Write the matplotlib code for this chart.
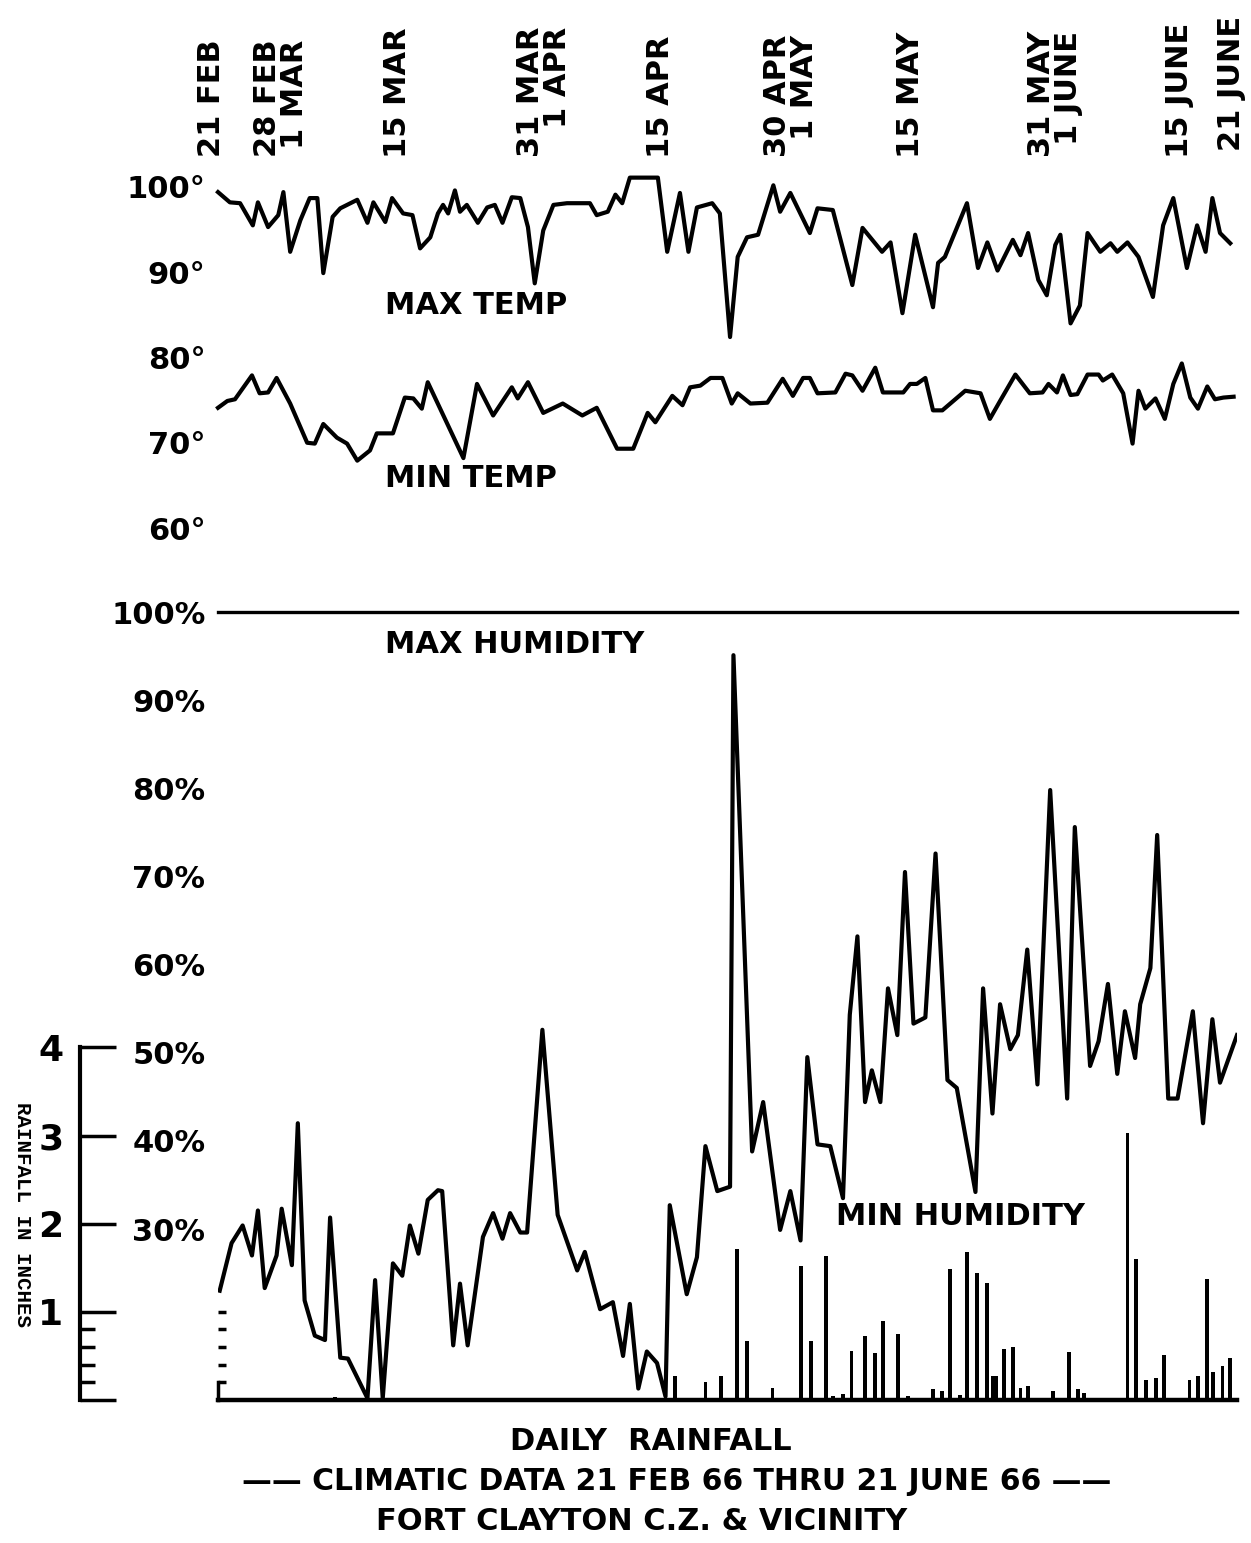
import numpy as np
import matplotlib
matplotlib.use("Agg")
import matplotlib.pyplot as plt

# ---------------- data (days after 21 Feb 1966) ----------------
max_temp_day = [0.0, 1.4, 2.6, 4.1, 4.7, 5.9, 7.1, 7.7, 8.5, 9.7, 10.8, 11.7, 12.4, 13.5, 14.4,
                16.4, 17.6, 18.3, 19.7, 20.5, 21.8, 22.9, 23.8, 25.0, 25.9, 26.5, 27.1, 27.9,
                28.5, 29.3, 30.6, 31.7, 32.6, 33.5, 34.6, 35.6, 36.5, 37.3, 38.3, 39.5, 41.1,
                43.8, 44.6, 45.9, 46.8, 47.6, 48.5, 51.8, 52.9, 54.4, 55.4, 56.4, 58.2, 59.1,
                60.3, 61.2, 62.3, 63.6, 65.4, 66.2, 67.4, 69.7, 70.6, 72.4, 74.7, 75.9, 78.2,
                79.2, 80.6, 82.1, 84.2, 84.8, 85.6, 88.2, 89.5, 90.6, 91.8, 93.6, 94.5, 95.4,
                96.6, 97.6, 98.6, 99.2, 100.4, 101.5, 102.4, 103.9, 105.1, 105.9, 107.1, 108.4,
                110.1, 111.3, 112.5, 114.1, 115.3, 116.3, 117.1, 118.0, 119.2]
max_temp = [99.4, 98.2, 98.1, 95.5, 98.2, 95.3, 96.7, 99.4, 92.4, 96.1, 98.7, 98.7, 89.9, 96.5, 97.5,
            98.5, 95.8, 98.2, 95.9, 98.7, 96.9, 96.7, 92.8, 94.1, 96.9, 97.9, 96.9, 99.6,
            97.1, 97.9, 95.8, 97.6, 97.9, 95.8, 98.8, 98.7, 95.3, 88.7, 94.9, 97.9, 98.1,
            98.1, 96.7, 97.1, 99.1, 98.1, 101.1, 101.1, 92.4, 99.3, 92.4, 97.6, 98.1, 96.9,
            82.4, 91.8, 94.1, 94.4, 100.2, 97.1, 99.3, 94.6, 97.5, 97.3, 88.5, 95.2, 92.4,
            93.5, 85.2, 94.4, 85.9, 91.1, 91.8, 98.1, 90.5, 93.5, 90.2, 93.8, 92.0, 94.6,
            89.1, 87.3, 93.2, 94.4, 84.0, 86.1, 94.6, 92.4, 93.4, 92.4, 93.5, 91.8,
            87.1, 95.5, 98.7, 90.5, 95.5, 92.4, 98.7, 94.6, 93.4]

min_temp_day = [0.0, 1.1, 2.0, 4.0, 4.9, 5.9, 6.9, 8.5, 10.5, 11.4, 12.4, 14.0, 15.2, 16.4, 17.9,
                18.7, 20.6, 22.0, 23.0, 24.0, 24.7, 28.9, 30.5, 32.4, 34.6, 35.3, 36.5, 38.3,
                40.6, 42.9, 44.6, 47.0, 48.9, 50.6, 51.5, 53.5, 54.7, 55.6, 56.8, 58.0, 59.4,
                60.5, 61.2, 62.7, 64.7, 66.5, 67.7, 68.9, 69.7, 70.6, 72.7, 73.9, 74.7, 75.9,
                77.4, 78.3, 80.7, 81.5, 82.3, 83.3, 84.2, 85.3, 88.0, 89.8, 90.9, 92.1, 93.9,
                95.6, 97.1, 97.8, 98.8, 99.5, 100.4, 101.2, 102.4, 103.7, 104.2, 105.3, 106.6,
                107.7, 108.4, 109.2, 110.4, 111.5, 112.5, 113.5, 114.5, 115.4, 116.5, 117.4,
                118.4, 119.6]
min_temp = [74.1, 74.9, 75.1, 77.9, 75.8, 75.9, 77.6, 74.6, 70.0, 69.9, 72.2, 70.6, 69.9, 67.9, 69.1,
            71.1, 71.1, 75.3, 75.2, 74.0, 77.1, 68.2, 76.9, 73.2, 76.5, 75.2, 77.1, 73.5,
            74.6, 73.2, 74.1, 69.3, 69.3, 73.5, 72.4, 75.5, 74.4, 76.5, 76.7, 77.6, 77.6,
            74.6, 75.8, 74.6, 74.7, 77.5, 75.5, 77.6, 77.6, 75.8, 75.9, 78.1, 77.9, 76.1,
            78.8, 75.9, 75.9, 76.9, 76.9, 77.6, 73.8, 73.8, 76.1, 75.8, 72.8, 74.9, 78.0,
            75.8, 75.9, 76.9, 75.9, 77.9, 75.6, 75.7, 78.0, 78.0, 77.3, 78.0, 75.8,
            69.9, 76.1, 74.0, 75.2, 72.8, 76.9, 79.3, 75.3, 74.0, 76.6, 75.1,
            75.3, 75.4]

max_hum_day = [0, 120]
max_hum = [100, 100]

min_hum_day = [0.2, 1.6, 2.9, 4.0, 4.7, 5.5, 6.9, 7.5, 8.7, 9.4, 10.2, 11.4, 12.6, 13.2, 14.4,
               15.3, 17.6, 18.5, 19.4, 20.6, 21.7, 22.6, 23.6, 24.7, 25.9, 26.4, 27.7, 28.5,
               29.4, 31.2, 32.4, 33.5, 34.4, 35.6, 36.4, 38.2, 40.0, 42.3, 43.2, 45.0, 46.5,
               47.7, 48.5, 49.5, 50.5, 51.7, 52.7, 53.2, 55.2, 56.4, 57.4, 58.8, 60.3, 60.7,
               62.9, 64.2, 66.2, 67.4, 68.6, 69.4, 70.6, 72.1, 73.6, 74.4, 75.3, 76.2, 77.0,
               78.0, 78.9, 80.0, 80.9, 81.9, 83.3, 84.5, 85.9, 87.0, 89.2, 90.1, 91.2, 92.1,
               93.3, 94.2, 95.3, 96.5, 98.0, 100.0, 100.9, 102.7, 103.7, 104.8, 105.9, 106.8,
               108.0, 108.6, 109.8, 110.6, 111.9, 113.0, 114.8, 116.0, 117.1, 118.0, 120.0]
min_hum = [23.0, 28.4, 30.4, 27.0, 32.1, 23.3, 27.0, 32.3, 25.9, 42.0, 21.9, 17.9, 17.4, 31.3, 15.4,
           15.3, 10.8, 24.2, 10.8, 26.1, 24.7, 30.4, 27.2, 33.3, 34.4, 34.3, 16.8, 23.8,
           16.8, 29.1, 31.8, 28.9, 31.8, 29.6, 29.6, 52.6, 31.6, 25.3, 27.4, 20.9, 21.7,
           15.6, 21.5, 11.9, 16.1, 14.8, 11.0, 32.7, 22.6, 26.8, 39.4, 34.3, 34.8, 95.1,
           38.8, 44.4, 29.9, 34.3, 28.7, 49.5, 39.6, 39.4, 33.5, 54.3, 63.2, 44.4, 48.0,
           44.4, 57.3, 52.0, 70.5, 53.3, 54.0, 72.6, 46.9, 46.0, 34.2, 57.3, 43.1, 55.5,
           50.4, 52.0, 61.7, 46.4, 79.8, 44.8, 75.6, 48.5, 51.3, 57.8, 47.6, 54.7,
           49.4, 55.5, 59.6, 74.7, 44.8, 44.8, 54.7, 42.0, 53.8, 46.6, 52.0]

rain_day = [13.8, 38.5, 53.8, 57.4, 59.2, 61.1, 62.3, 65.3, 68.7, 69.8, 71.6, 72.4, 73.6, 74.6,
            76.2, 77.4, 78.3, 80.1, 81.3, 84.2, 85.3, 86.2, 87.4, 88.2, 89.4, 90.6, 91.2,
            91.6, 92.6, 93.6, 94.5, 95.4, 98.3, 100.2, 101.3, 102.0, 107.1, 108.1, 109.3,
            110.5, 111.4, 114.4, 115.4, 116.5, 117.2, 118.3, 119.2]
rain_in = [0.03, 0.02, 0.27, 0.2, 0.27, 1.71, 0.67, 0.14, 1.52, 0.67, 1.63, 0.05, 0.07, 0.56,
           0.73, 0.53, 0.9, 0.75, 0.05, 0.12, 0.1, 1.49, 0.06, 1.68, 1.44, 1.33, 0.27,
           0.27, 0.58, 0.6, 0.14, 0.16, 0.1, 0.54, 0.12, 0.08, 3.03, 1.6, 0.23,
           0.25, 0.51, 0.23, 0.27, 1.37, 0.32, 0.39, 0.48]

temp_ticks = [60, 70, 80, 90, 100]
temp_labels = ["60°", "70°", "80°", "90°", "100°"]
hum_ticks = [30, 40, 50, 60, 70, 80, 90, 100]
hum_labels = ["30%", "40%", "50%", "60%", "70%", "80%", "90%", "100%"]
rain_ticks = [0, 1, 2, 3, 4]
rain_labels = ["", "1", "2", "3", "4"]

date_days = [0, 7.5, 22, 38.5, 53, 68.5, 83, 99.5, 114, 120]
date_labels = ["21 FEB", "28 FEB\n1 MAR", "15 MAR", "31 MAR\n1 APR", "15 APR",
               "30 APR\n1 MAY", "15 MAY", "31 MAY\n1 JUNE", "15 JUNE", "21 JUNE"]
# label placement (pixel nudges, not data)
date_dx = [-7, -1, -7, -1, -8, -9, -12, -8, -7, -5]
date_bottom = [157, 157, 158, 157, 158, 157, 158, 157, 158, 151]

# ---------------- layout ----------------
W, H = 1251, 1543
DPI = 100
fig = plt.figure(figsize=(W / DPI, H / DPI), dpi=DPI, facecolor="white")
FONT = "DejaVu Sans"
FS = 22

def fx(px):
    return px / W

def fy(py):
    return 1 - py / H

x_left, x_right = 218, 1237
LW = 3.0

# temperature panel
ax_t = fig.add_axes([fx(x_left), fy(528), fx(x_right) - fx(x_left), fy(187) - fy(528)])
ax_t.set_xlim(0, 120)
ax_t.set_ylim(60, 100)
for s in ax_t.spines.values():
    s.set_visible(False)
ax_t.set_xticks([])
ax_t.set_yticks(temp_ticks)
ax_t.set_yticklabels(temp_labels, fontsize=FS, fontweight="bold", family=FONT)
ax_t.tick_params(axis="y", length=0, pad=9)
ax_t.patch.set_alpha(0)
ax_t.plot(max_temp_day, max_temp, color="black", lw=LW, solid_joinstyle="round", clip_on=False)
ax_t.plot(min_temp_day, min_temp, color="black", lw=LW, solid_joinstyle="round", clip_on=False)
ax_t.text(19.7, 86.1, "MAX TEMP", fontsize=FS, fontweight="bold", family=FONT, va="center")
ax_t.text(19.7, 65.8, "MIN TEMP", fontsize=FS, fontweight="bold", family=FONT, va="center")

# date labels on top
for d, lab, dx, yb in zip(date_days, date_labels, date_dx, date_bottom):
    ax_t.annotate(lab, xy=(d, fy(yb)), xycoords=("data", "figure fraction"),
                  xytext=(dx * 0.72, 0), textcoords="offset points",
                  rotation=90, rotation_mode="anchor", ha="left", va="center",
                  multialignment="right", linespacing=0.92,
                  fontsize=FS, fontweight="bold", family=FONT, annotation_clip=False)

# humidity panel
ax_h = fig.add_axes([fx(x_left), fy(1400), fx(x_right) - fx(x_left), fy(612) - fy(1400)])
ax_h.set_xlim(0, 120)
ax_h.set_ylim(10.6, 100)
for k in ["top", "right", "left"]:
    ax_h.spines[k].set_visible(False)
ax_h.spines["bottom"].set_linewidth(3.2)
ax_h.set_xticks([])
ax_h.set_yticks(hum_ticks)
ax_h.set_yticklabels(hum_labels, fontsize=FS, fontweight="bold", family=FONT)
ax_h.tick_params(axis="y", length=0, pad=9)
ax_h.plot(max_hum_day, max_hum, color="black", lw=2.4, clip_on=False)
ax_h.plot(min_hum_day, min_hum, color="black", lw=LW, solid_joinstyle="round")
ax_h.text(19.7, 96.3, "MAX HUMIDITY", fontsize=FS, fontweight="bold", family=FONT, va="center")
ax_h.text(72.8, 31.4, "MIN HUMIDITY", fontsize=FS, fontweight="bold", family=FONT, va="center")

# rainfall on a twin axis
ax_r = ax_h.twinx()
ax_r.set_ylim(0, 8.94)
ax_r.set_xlim(0, 120)
for k in ["top", "right", "bottom"]:
    ax_r.spines[k].set_visible(False)
ax_r.spines["left"].set_visible(True)
ax_r.spines["left"].set_position(("axes", (80 - x_left) / (x_right - x_left)))
ax_r.spines["left"].set_bounds(0, 4)
ax_r.spines["left"].set_linewidth(3)
ax_r.yaxis.set_ticks_position("left")
ax_r.yaxis.set_label_position("left")
ax_r.set_yticks(rain_ticks)
ax_r.set_yticklabels(rain_labels, fontsize=26, fontweight="bold", family=FONT)
ax_r.set_yticks([0.2, 0.4, 0.6, 0.8], minor=True)
ax_r.tick_params(axis="y", which="major", direction="in", length=26, width=2.5, pad=12)
ax_r.tick_params(axis="y", which="minor", direction="in", length=11, width=2.5)
ax_r.bar(rain_day, rain_in, width=0.45, color="black")

# small rainfall scale at plot's left edge
ax_r2 = ax_h.twinx()
ax_r2.set_ylim(0, 8.94)
ax_r2.set_xlim(0, 120)
for k in ["top", "right", "bottom"]:
    ax_r2.spines[k].set_visible(False)
ax_r2.spines["left"].set_visible(True)
ax_r2.spines["left"].set_bounds(0, 0.2)
ax_r2.spines["left"].set_linewidth(2.5)
ax_r2.yaxis.set_ticks_position("left")
ax_r2.set_yticks([0.2, 0.4, 0.6, 0.8, 1.0])
ax_r2.set_yticklabels([])
ax_r2.tick_params(axis="y", direction="in", length=6, width=2.5)

fig.text(fx(22), fy(1215), "RAINFALL IN INCHES", rotation=270, ha="center", va="center",
         fontsize=15, family="Liberation Mono", fontweight="bold")

# titles
fig.text(fx(651), fy(1441), "DAILY  RAINFALL", ha="center", va="center",
         fontsize=FS, fontweight="bold", family=FONT)
fig.text(fx(677), fy(1481), "—— CLIMATIC DATA 21 FEB 66 THRU 21 JUNE 66 ——", ha="center", va="center",
         fontsize=FS - 0.5, fontweight="bold", family=FONT)
fig.text(fx(642), fy(1522), "FORT CLAYTON C.Z. & VICINITY", ha="center", va="center",
         fontsize=FS, fontweight="bold", family=FONT)

fig.savefig("out.png", dpi=DPI, facecolor="white")
